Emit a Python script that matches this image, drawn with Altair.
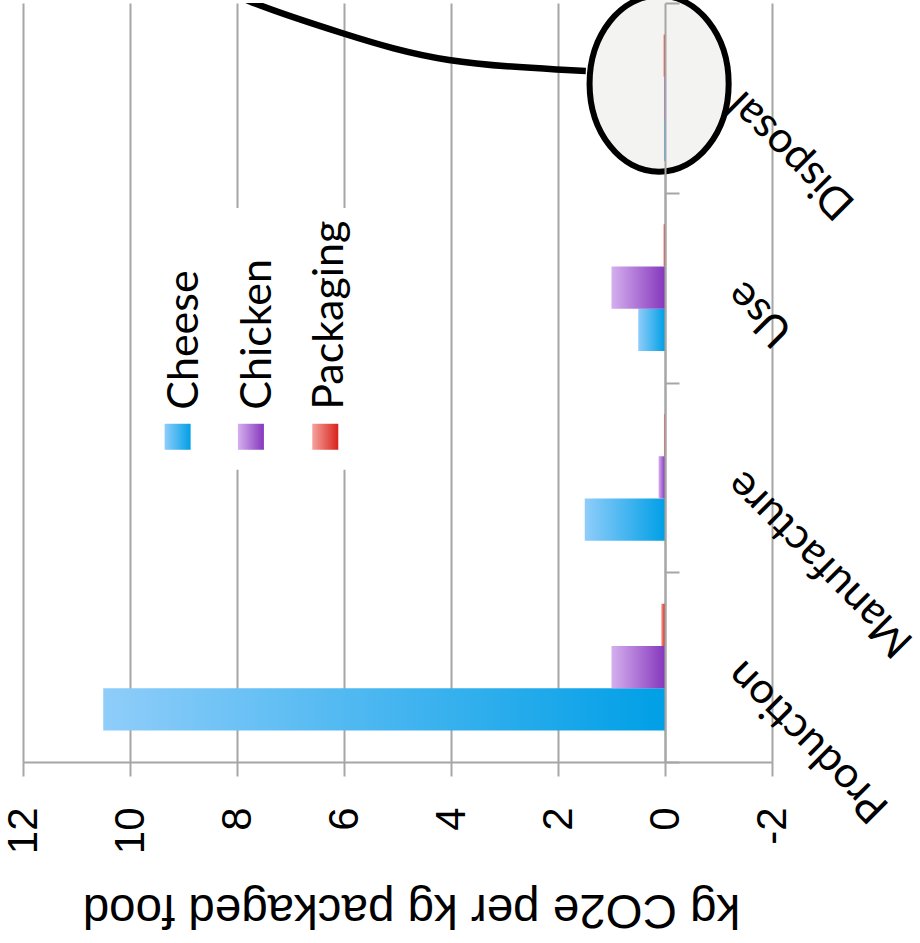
import altair as alt
import pandas as pd

# ---- data ----
stages = ["Production", "Manufacture", "Use", "Disposal"]
series = ["Cheese", "Chicken", "Packaging"]
cheese = [10.5, 1.5, 0.5, 0.02]
chicken = [1.0, 0.12, 1.0, 0.02]
packaging = [0.07, 0.02, 0.03, 0.03]
x_ticks = [-2, 0, 2, 4, 6, 8, 10, 12]

# ---- styles ----
light = ["#8fcdfa", "#d5afee", "#f5a39e"]
dark = ["#009fe6", "#8637bd", "#d8221a"]
GRID = "#a6a6a6"

# ---- annotation / legend placement (x in value units, y in category units 0..4 from bottom) ----
legend_sym_x = [9.11, 7.74, 6.35]
legend_txt_x = [8.73, 7.36, 6.02]
legend_sym_y = [1.714, 1.714, 1.714]
legend_txt_y = [1.856, 1.856, 1.856]
legend_box_x = [9.63]
legend_box_x2 = [5.78]
legend_box_y = [2.92]
legend_box_y2 = [1.54]
ellipse_x = [0.11]
ellipse_y = [3.575]
curve_x = [1.48, 2.02, 4.04, 6.04, 7.78, 8.43]
curve_y = [3.642, 3.650, 3.70, 3.842, 4.011, 4.116]

W, H = 749, 759

rows = []
for s, vals in zip(series, [cheese, chicken, packaging]):
    for st, v in zip(stages, vals):
        rows.append({"stage": st, "series": s, "value": v})
df = pd.DataFrame(rows)

x_scale = alt.Scale(domain=[-2, 12], reverse=True, nice=False, zero=False)
x_axis = alt.Axis(
    values=x_ticks, grid=True, gridColor=GRID, gridWidth=2,
    domainColor=GRID, domainWidth=2, tickColor=GRID, tickWidth=2, tickSize=14,
    labelAngle=-90, labelAlign="right", labelBaseline="middle", labelPadding=31,
    labelFont="Liberation Sans", labelFontSize=42, labelColor="black",
    labelFlush=False, labelOverlap=False, labelExpr="'' + datum.value",
    title="kg CO2e per kg packaged food", titleAngle=180, titleFont="Liberation Sans",
    titleFontSize=47.5, titleFontWeight="normal", titleColor="black",
    titleX=388, titleY=146, titleAlign="center", titleBaseline="middle",
)
y_axis = alt.Axis(
    orient="right", offset=-107, grid=False, domainColor=GRID, domainWidth=2,
    tickColor=GRID, tickWidth=2, tickSize=14, tickBand="extent", zindex=1,
    labelAngle=225, labelAlign="right", labelBaseline="middle", labelPadding=55,
    labelFont="Lato", labelFontSize=43, labelColor="black", labelLimit=500, title=None,
)
y_scale = alt.Scale(domain=stages[::-1], paddingInner=0, paddingOuter=0)
yoff_scale = alt.Scale(domain=series[::-1], paddingInner=0, paddingOuter=0.745)


def grad(i):
    return alt.LinearGradient(
        gradient="linear",
        stops=[alt.GradientStop(color=light[i], offset=0),
               alt.GradientStop(color=dark[i], offset=1)],
        x1=0, x2=1, y1=0, y2=0,
    )


bar_layers = []
for i, s in enumerate(series):
    bar_layers.append(
        alt.Chart(df).transform_filter(alt.datum.series == s)
        .mark_bar(fill=grad(i), strokeWidth=0)
        .encode(
            x=alt.X("value:Q", scale=x_scale, axis=x_axis),
            y=alt.Y("stage:N", scale=y_scale, axis=y_axis, sort=stages[::-1]),
            yOffset=alt.YOffset("series:N", scale=yoff_scale),
        )
    )
bars = alt.layer(*bar_layers)

ann_y = alt.Scale(domain=[0, 4], nice=False, zero=False)
ELLIPSE = "M0,-1 A0.79,1 0 1,1 0,1 A0.79,1 0 1,1 0,-1 Z"
ELLIPSE_SIZE = 31000

edf = pd.DataFrame({"x": ellipse_x, "y": ellipse_y})
ellipse_fill = alt.Chart(edf).mark_point(
    shape=ELLIPSE, size=ELLIPSE_SIZE, filled=True, fill="#f3f4f1",
    strokeWidth=0, opacity=1,
).encode(
    x=alt.X("x:Q", scale=x_scale, axis=x_axis),
    y=alt.Y("y:Q", scale=ann_y, axis=None),
)
ellipse_ring = alt.Chart(edf).mark_point(
    shape=ELLIPSE, size=ELLIPSE_SIZE, filled=False, fill="transparent",
    stroke="black", strokeWidth=6, opacity=1,
).encode(
    x=alt.X("x:Q", scale=x_scale, axis=x_axis),
    y=alt.Y("y:Q", scale=ann_y, axis=None),
)

box_df = pd.DataFrame({"x": legend_box_x, "x2": legend_box_x2, "y": legend_box_y, "y2": legend_box_y2})
legend_bg = alt.Chart(box_df).mark_rect(fill="white").encode(
    x=alt.X("x:Q", scale=x_scale, axis=x_axis), x2="x2:Q",
    y=alt.Y("y:Q", scale=ann_y, axis=None), y2="y2:Q",
)

leg_layers = [legend_bg]
for i, s in enumerate(series):
    sdf = pd.DataFrame({"x": [legend_sym_x[i]], "y": [legend_sym_y[i]]})
    leg_layers.append(
        alt.Chart(sdf).mark_square(size=676, filled=True, fill=grad(i), strokeWidth=0, opacity=1).encode(
            x=alt.X("x:Q", scale=x_scale, axis=x_axis),
            y=alt.Y("y:Q", scale=ann_y, axis=None),
        )
    )
tdf = pd.DataFrame({"x": legend_txt_x, "y": legend_txt_y, "t": series})
leg_layers.append(
    alt.Chart(tdf).mark_text(angle=270, align="left", baseline="alphabetic", font="Lato",
                             fontSize=43, color="black").encode(
        x=alt.X("x:Q", scale=x_scale, axis=x_axis),
        y=alt.Y("y:Q", scale=ann_y, axis=None),
        text="t:N",
    )
)

cdf = pd.DataFrame({"x": curve_x, "y": curve_y})
curve = alt.Chart(cdf).mark_line(color="black", strokeWidth=6.5, interpolate="natural", clip=True).encode(
    x=alt.X("x:Q", scale=x_scale, axis=x_axis),
    y=alt.Y("y:Q", scale=ann_y, axis=None),
)

annot = alt.layer(*leg_layers, ellipse_ring, curve)

chart = alt.layer(ellipse_fill, bars, annot).resolve_scale(y="independent").properties(
    width=W, height=H,
    autosize=alt.AutoSizeParams(type="none"),
    padding={"left": 23, "top": 3, "right": 920 - 23 - W, "bottom": 943 - 3 - H},
).configure_view(stroke=None)

chart.save("out.html", embed_options={"renderer": "svg", "actions": False})
